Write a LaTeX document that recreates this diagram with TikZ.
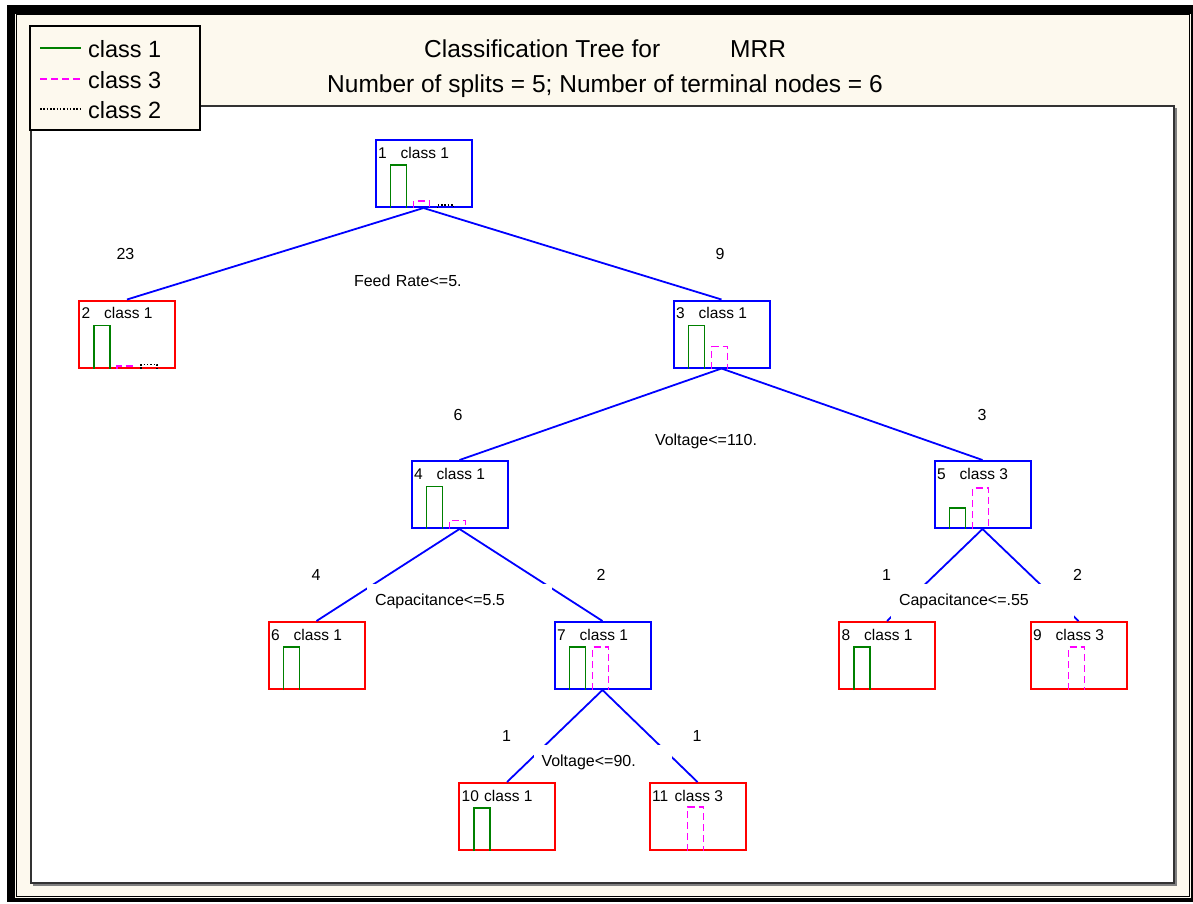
\documentclass[tikz,border=0pt]{standalone}
\usepackage{fontspec}
\setmainfont{Liberation Sans}
\usetikzlibrary{calc}

\definecolor{cream}{RGB}{253,249,238}
\definecolor{cgreen}{RGB}{0,128,0}
\definecolor{cmag}{RGB}{255,0,255}
\definecolor{cblue}{RGB}{0,0,255}
\definecolor{cred}{RGB}{255,0,0}

\newcommand\ttlfont{\fontsize{24.5}{28}\selectfont}
\newcommand\legfont{\fontsize{23.5}{28}\selectfont}
\newcommand\nodefont{\fontsize{15.5}{18}\selectfont}
\newcommand\lblfont{\fontsize{16}{19}\selectfont}

% one bar of the class histogram, sitting on the bottom edge of a node
% #1 node, #2 style, #3 x offset, #4 height
\newcommand\histbar[4]{\draw[#2] ([shift={(#3,0)}]#1.south west) -- ++(0,-#4) -- ++(16,0) -- ++(0,#4);}

\tikzset{
  treenode/.style={draw, line width=2pt, fill=white, minimum width=96pt,
    minimum height=67pt, inner sep=0pt},
  innernode/.style={treenode, draw=cblue},
  leafnode/.style={treenode, draw=cred},
  edge/.style={cblue, line width=1.8pt},
  c1line/.style={cgreen, line width=1.8pt},
  c3line/.style={cmag, line width=1.8pt, dash pattern=on 7pt off 4pt},
  c2line/.style={black, line width=1.5pt, dash pattern=on 1.5pt off 1.8pt},
  nodetxt/.style={font=\nodefont, anchor=base west, inner sep=0pt},
  counttxt/.style={font=\lblfont, anchor=base, inner sep=0pt},
  splitlbl/.style={fill=white, inner xsep=8pt, inner ysep=0pt,
    minimum height=35pt, align=left, anchor=north, font=\lblfont},
  legtxt/.style={font=\legfont, anchor=base west, inner sep=0pt},
}

\begin{document}
\begin{tikzpicture}[x=1pt,y=-1pt]
\useasboundingbox (0,0) rectangle (1193,903);

% window frame
\fill[black] (6.5,5) rectangle (1193,901.5);
\fill[cream] (15,13.5) rectangle (1190.5,898);
\draw[black, line width=1.2pt] (16.5,14.8) rectangle (1189.3,896.8);

% plotting area with its shadow
\draw[gray, line width=1.5pt] (33,885) -- (1176,885) -- (1176,108);
\fill[white] (31,106) rectangle (1174,883);
\draw[black!80, line width=1.3pt] (31,106) rectangle (1174,883);

% titles
\node[font=\ttlfont, anchor=base west, inner sep=0pt] (t1) at (424,57.5) {Classification Tree for};
\node[font=\ttlfont, anchor=base west, inner sep=0pt] (t2) at (730,57.5) {MRR};
\node[font=\ttlfont, anchor=base, inner sep=0pt] (t3) at (605,92.3)
  {Number of splits = 5; Number of terminal nodes = 6};

% legend
\node[draw, line width=1.8pt, fill=cream, minimum width=170pt, minimum height=104pt,
  inner sep=0pt] (leg) at (115,78) {};
\draw[c1line] ([shift={(11,-30)}]leg.west) -- ++(41,0);
\draw[c3line] ([shift={(11,1)}]leg.west) -- ++(41,0);
\draw[c2line] ([shift={(11,31)}]leg.west) -- ++(41,0);
\node[legtxt] (l1) at (88,57.3) {class 1};
\node[legtxt] (l3) at (88,88.2) {class 3};
\node[legtxt] (l2) at (88,118.8) {class 2};

% tree nodes
\node[innernode] (n1)  at (423.5,173.5) {};
\node[leafnode]  (n2)  at (127,334)     {};
\node[innernode] (n3)  at (721.5,334)   {};
\node[innernode] (n4)  at (459.5,494.5) {};
\node[innernode] (n5)  at (982.5,494.5) {};
\node[leafnode]  (n6)  at (316.5,655.5) {};
\node[innernode] (n7)  at (602.5,655.5) {};
\node[leafnode]  (n8)  at (887,655.5)   {};
\node[leafnode]  (n9)  at (1078.5,655.5){};
\node[leafnode]  (n10) at (507,816.5)   {};
\node[leafnode]  (n11) at (697.5,816.5) {};

% branches
\draw[edge] (n1.south) -- (n2.north);
\draw[edge] (n1.south) -- (n3.north);
\draw[edge] (n3.south) -- (n4.north);
\draw[edge] (n3.south) -- (n5.north);
\draw[edge] (n4.south) -- (n6.north);
\draw[edge] (n4.south) -- (n7.north);
\draw[edge] (n5.south) -- (n8.north);
\draw[edge] (n5.south) -- (n9.north);
\draw[edge] (n7.south) -- (n10.north);
\draw[edge] (n7.south) -- (n11.north);

% split rules
\node[splitlbl, text width=139pt] (s1) at ([yshift=-55pt]n1.south) {Feed Rate<=5.};
\node[splitlbl, text width=133pt] (s3) at ([yshift=-55pt]n3.south) {Voltage<=110.};
\node[splitlbl, text width=169pt] (s4) at ([yshift=-55pt]n4.south) {Capacitance<=5.5};
\node[splitlbl, text width=167pt] (s5) at ([yshift=-55pt]n5.south) {Capacitance<=.55};
\node[splitlbl, text width=122pt] (s7) at ([yshift=-55pt]n7.south) {Voltage<=90.};

% case counts
\node[counttxt] (c2)  at ($(n2.north)+(-1.5,-40)$)  {23};
\node[counttxt] (c3)  at ($(n3.north)+(-1.5,-40)$)  {9};
\node[counttxt] (c4)  at ($(n4.north)+(-1.5,-40)$)  {6};
\node[counttxt] (c5)  at ($(n5.north)+(-0.5,-40)$)  {3};
\node[counttxt] (c6)  at ($(n6.north)+(-0.5,-41)$)  {4};
\node[counttxt] (c7)  at ($(n7.north)+(-1.5,-41)$)  {2};
\node[counttxt] (c8)  at ($(n8.north)+(-0.5,-41)$)  {1};
\node[counttxt] (c9)  at ($(n9.north)+(-1,-41)$)    {2};
\node[counttxt] (c10) at ($(n10.north)+(-0.5,-41)$) {1};
\node[counttxt] (c11) at ($(n11.north)+(-0.5,-41)$) {1};

% node captions
\foreach \n/\k in {1/1,2/1,3/1,4/1,5/3,6/1,7/1,8/1,9/3,10/1,11/3}{
  \node[nodetxt] (id\n) at ([shift={(3.5,19)}]n\n.north west) {\n};
  \node[nodetxt] (cl\n) at ([shift={(26,19)}]n\n.north west) {class \k};
}

% class histograms
\histbar{n1}{c1line}{16}{43}
\histbar{n1}{c3line}{39}{7}
\histbar{n1}{c2line}{63}{3}
\histbar{n2}{c1line}{16}{43}
\histbar{n2}{c3line}{39}{2.5}
\histbar{n2}{c2line}{63}{4}
\histbar{n3}{c1line}{16}{43}
\histbar{n3}{c3line}{39}{22}
\histbar{n4}{c1line}{16}{42.5}
\histbar{n4}{c3line}{39}{8.5}
\histbar{n5}{c1line}{16}{21}
\histbar{n5}{c3line}{39}{41}
\histbar{n6}{c1line}{16}{43}
\histbar{n7}{c1line}{16}{43}
\histbar{n7}{c3line}{39}{43}
\histbar{n8}{c1line}{16}{43}
\histbar{n9}{c3line}{39}{43}
\histbar{n10}{c1line}{16}{43}
\histbar{n11}{c3line}{39}{44}
\end{tikzpicture}
\end{document}
